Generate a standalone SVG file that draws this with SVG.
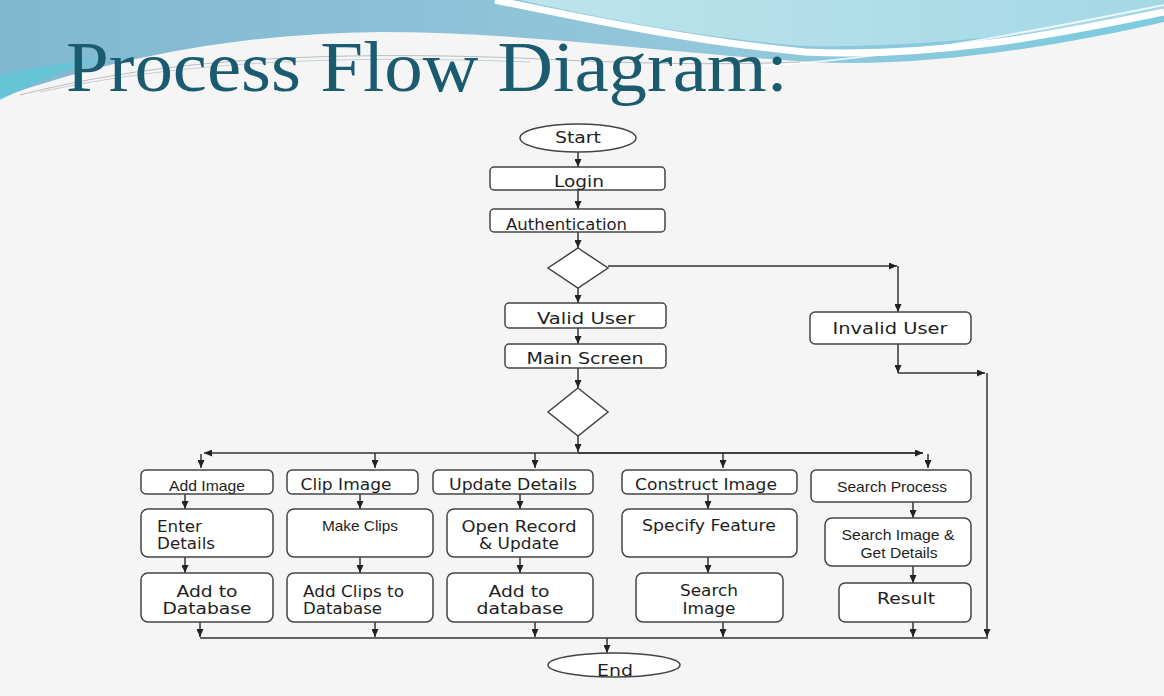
<svg xmlns="http://www.w3.org/2000/svg" width="1164" height="696" viewBox="0 0 1164 696">
<defs>
<linearGradient id="gBlue" x1="0" y1="0" x2="1" y2="0">
<stop offset="0" stop-color="#80b8d0"/>
<stop offset="0.6" stop-color="#93c7db"/>
<stop offset="1" stop-color="#7ccbe0"/>
</linearGradient>
<linearGradient id="gCyan" x1="0" y1="0" x2="1" y2="0">
<stop offset="0" stop-color="#bde4ec"/>
<stop offset="1" stop-color="#a4d8e6"/>
</linearGradient>
<marker id="ah" viewBox="0 0 8 7" refX="8" refY="3.5" markerWidth="8" markerHeight="7" markerUnits="userSpaceOnUse" orient="auto">
<path d="M0,0 L8,3.5 L0,7 Z" fill="#222"/>
</marker>
<style>
.box{fill:#ffffff;stroke:#444;stroke-width:1.5}
.ln{fill:none;stroke:#333;stroke-width:1.5}
.ar{fill:none;stroke:#333;stroke-width:1.5;marker-end:url(#ah)}
.t{font-family:"DejaVu Sans","Verdana",sans-serif;font-size:16.5px;fill:#1e1e1e}
.a{font-family:"Liberation Sans","Arial",sans-serif;font-size:15px;fill:#1e1e1e}
.m{text-anchor:middle}
</style>
</defs>
<rect x="0" y="0" width="1164" height="696" fill="#f5f5f5"/>
<g id="banner">
<path d="M0,0 L1164,0 L1164,22 C1050,48 920,68 810,62 C660,52 520,32 380,32 C250,33 120,55 0,98 Z" fill="url(#gBlue)"/>
<path d="M0,75 C40,66 70,62 100,60 C60,70 30,85 0,100 Z" fill="#5ec8d8" opacity="0.8"/>
<path d="M520,0 L1164,0 L1164,12 C1040,36 900,48 805,46 C700,38 600,18 520,0 Z" fill="url(#gCyan)"/>
<path d="M495,0 C600,22 700,42 805,52 C930,58 1050,36 1164,12" fill="none" stroke="#ffffff" stroke-width="7"/>
<path d="M760,66 C900,58 1040,30 1164,5" fill="none" stroke="#ffffff" stroke-width="2" opacity="0.8"/>
<path d="M20,95 C150,62 300,50 520,58 C600,62 700,66 800,62" fill="none" stroke="#9aa6ac" stroke-width="1" opacity="0.7"/>
<path d="M40,92 C170,64 320,54 530,62" fill="none" stroke="#9aa6ac" stroke-width="1" opacity="0.5"/>
</g>
<text id="title" x="66" y="91" font-family="Liberation Serif, Times New Roman, serif" font-size="72" fill="#1a5b6f" textLength="722" lengthAdjust="spacingAndGlyphs">Process Flow Diagram:</text>
<g id="connectors">
<line class="ar" x1="578" y1="152" x2="578" y2="167"/>
<line class="ar" x1="578" y1="190" x2="578" y2="209"/>
<line class="ar" x1="578" y1="232" x2="578" y2="248"/>
<line class="ar" x1="608" y1="266" x2="897" y2="266"/>
<line class="ar" x1="898" y1="266" x2="898" y2="312"/>
<line class="ar" x1="578" y1="288" x2="578" y2="303"/>
<line class="ar" x1="578" y1="328" x2="578" y2="344"/>
<line class="ar" x1="578" y1="368" x2="578" y2="388"/>
<line class="ar" x1="898" y1="344" x2="898" y2="373"/>
<line class="ar" x1="898" y1="373" x2="985" y2="373"/>
<line class="ar" x1="987" y1="373" x2="987" y2="637"/>
<line class="ar" x1="578" y1="436" x2="578" y2="452"/>
<line class="ar" x1="923" y1="453" x2="204" y2="453"/>
<line class="ar" x1="201" y1="454" x2="201" y2="468"/>
<line class="ar" x1="578" y1="453" x2="923" y2="453"/>
<line class="ar" x1="928" y1="454" x2="928" y2="468"/>
<line class="ar" x1="375" y1="453" x2="375" y2="468"/>
<line class="ar" x1="535" y1="453" x2="535" y2="468"/>
<line class="ar" x1="723" y1="453" x2="723" y2="468"/>
<line class="ar" x1="185" y1="494" x2="185" y2="509"/>
<line class="ar" x1="185" y1="557" x2="185" y2="573"/>
<line class="ar" x1="200" y1="622" x2="200" y2="637"/>
<line class="ar" x1="360" y1="494" x2="360" y2="509"/>
<line class="ar" x1="360" y1="557" x2="360" y2="573"/>
<line class="ar" x1="375" y1="622" x2="375" y2="637"/>
<line class="ar" x1="520" y1="494" x2="520" y2="509"/>
<line class="ar" x1="520" y1="557" x2="520" y2="573"/>
<line class="ar" x1="535" y1="622" x2="535" y2="637"/>
<line class="ar" x1="708" y1="494" x2="708" y2="509"/>
<line class="ar" x1="708" y1="557" x2="708" y2="573"/>
<line class="ar" x1="723" y1="622" x2="723" y2="637"/>
<line class="ar" x1="913" y1="502" x2="913" y2="518"/>
<line class="ar" x1="913" y1="566" x2="913" y2="583"/>
<line class="ar" x1="913" y1="622" x2="913" y2="637"/>
<line class="ln" x1="200" y1="638" x2="988" y2="638"/>
<line class="ar" x1="607" y1="638" x2="607" y2="653"/>
</g>
<g id="start"><ellipse class="box" cx="578" cy="138" rx="58" ry="14"/><text class="t m" x="578" y="143" textLength="46" lengthAdjust="spacingAndGlyphs">Start</text></g>
<g id="login"><rect class="box" x="490" y="167" width="175" height="23" rx="4"/><text class="t m" x="579" y="187" textLength="50" lengthAdjust="spacingAndGlyphs">Login</text></g>
<g id="auth"><rect class="box" x="490" y="209" width="175" height="23" rx="4"/><text class="t" x="506" y="230" textLength="121" lengthAdjust="spacingAndGlyphs">Authentication</text></g>
<g id="decision1"><polygon class="box" points="578,248 608,268 578,288 548,268"/></g>
<g id="valid"><rect class="box" x="505" y="303" width="161" height="25" rx="4"/><text class="t m" x="586" y="324" textLength="98" lengthAdjust="spacingAndGlyphs">Valid User</text></g>
<g id="invalid"><rect class="box" x="810" y="312" width="161" height="32" rx="5"/><text class="t m" x="890" y="334" textLength="115" lengthAdjust="spacingAndGlyphs">Invalid User</text></g>
<g id="main"><rect class="box" x="505" y="344" width="161" height="24" rx="4"/><text class="t m" x="585" y="364" textLength="117" lengthAdjust="spacingAndGlyphs">Main Screen</text></g>
<g id="decision2"><polygon class="box" points="578,388 608,412 578,436 548,412"/></g>
<g id="addimage"><rect class="box" x="141" y="470" width="132" height="24" rx="5"/><text class="a m" x="207" y="491" textLength="76" lengthAdjust="spacingAndGlyphs">Add Image</text></g>
<g id="enterdetails"><rect class="box" x="141" y="509" width="132" height="48" rx="7"/><text class="t" x="157" y="532" textLength="45" lengthAdjust="spacingAndGlyphs">Enter</text><text class="t" x="157" y="549" textLength="58" lengthAdjust="spacingAndGlyphs">Details</text></g>
<g id="addtodb1"><rect class="box" x="141" y="573" width="132" height="49" rx="7"/><text class="t m" x="207" y="597" textLength="61" lengthAdjust="spacingAndGlyphs">Add to</text><text class="t m" x="207" y="614" textLength="89" lengthAdjust="spacingAndGlyphs">Database</text></g>
<g id="clipimage"><rect class="box" x="287" y="470" width="131" height="24" rx="5"/><text class="t m" x="346" y="490" textLength="91" lengthAdjust="spacingAndGlyphs">Clip Image</text></g>
<g id="makeclips"><rect class="box" x="287" y="509" width="146" height="48" rx="7"/><text class="a m" x="360" y="531" textLength="76" lengthAdjust="spacingAndGlyphs">Make Clips</text></g>
<g id="addclips"><rect class="box" x="287" y="573" width="146" height="49" rx="7"/><text class="t" x="303" y="597" textLength="101" lengthAdjust="spacingAndGlyphs">Add Clips to</text><text class="t" x="303" y="614" textLength="79" lengthAdjust="spacingAndGlyphs">Database</text></g>
<g id="updatedetails"><rect class="box" x="433" y="470" width="160" height="24" rx="5"/><text class="t m" x="513" y="490" textLength="128" lengthAdjust="spacingAndGlyphs">Update Details</text></g>
<g id="openrecord"><rect class="box" x="447" y="509" width="146" height="48" rx="7"/><text class="t m" x="519" y="532" textLength="115" lengthAdjust="spacingAndGlyphs">Open Record</text><text class="t m" x="519" y="549" textLength="80" lengthAdjust="spacingAndGlyphs">&amp; Update</text></g>
<g id="addtodb2"><rect class="box" x="447" y="573" width="146" height="49" rx="7"/><text class="t m" x="519" y="597" textLength="61" lengthAdjust="spacingAndGlyphs">Add to</text><text class="t m" x="520" y="614" textLength="87" lengthAdjust="spacingAndGlyphs">database</text></g>
<g id="construct"><rect class="box" x="622" y="470" width="175" height="24" rx="5"/><text class="t m" x="706" y="490" textLength="142" lengthAdjust="spacingAndGlyphs">Construct Image</text></g>
<g id="specify"><rect class="box" x="622" y="509" width="175" height="48" rx="7"/><text class="t m" x="709" y="531" textLength="134" lengthAdjust="spacingAndGlyphs">Specify Feature</text></g>
<g id="searchimage"><rect class="box" x="636" y="573" width="147" height="49" rx="7"/><text class="t m" x="709" y="596" textLength="58" lengthAdjust="spacingAndGlyphs">Search</text><text class="t m" x="709" y="614" textLength="53" lengthAdjust="spacingAndGlyphs">Image</text></g>
<g id="searchprocess"><rect class="box" x="811" y="470" width="160" height="32" rx="5"/><text class="a m" x="892" y="492" textLength="110" lengthAdjust="spacingAndGlyphs">Search Process</text></g>
<g id="getdetails"><rect class="box" x="825" y="518" width="146" height="48" rx="7"/><text class="a m" x="898" y="540" textLength="113" lengthAdjust="spacingAndGlyphs">Search Image &amp;</text><text class="a m" x="899" y="558" textLength="77" lengthAdjust="spacingAndGlyphs">Get Details</text></g>
<g id="result"><rect class="box" x="839" y="583" width="132" height="39" rx="6"/><text class="t m" x="906" y="604" textLength="58" lengthAdjust="spacingAndGlyphs">Result</text></g>
<g id="end"><ellipse class="box" cx="614" cy="665" rx="66" ry="12"/><text class="t m" x="615" y="676" textLength="36" lengthAdjust="spacingAndGlyphs">End</text></g>
</svg>
